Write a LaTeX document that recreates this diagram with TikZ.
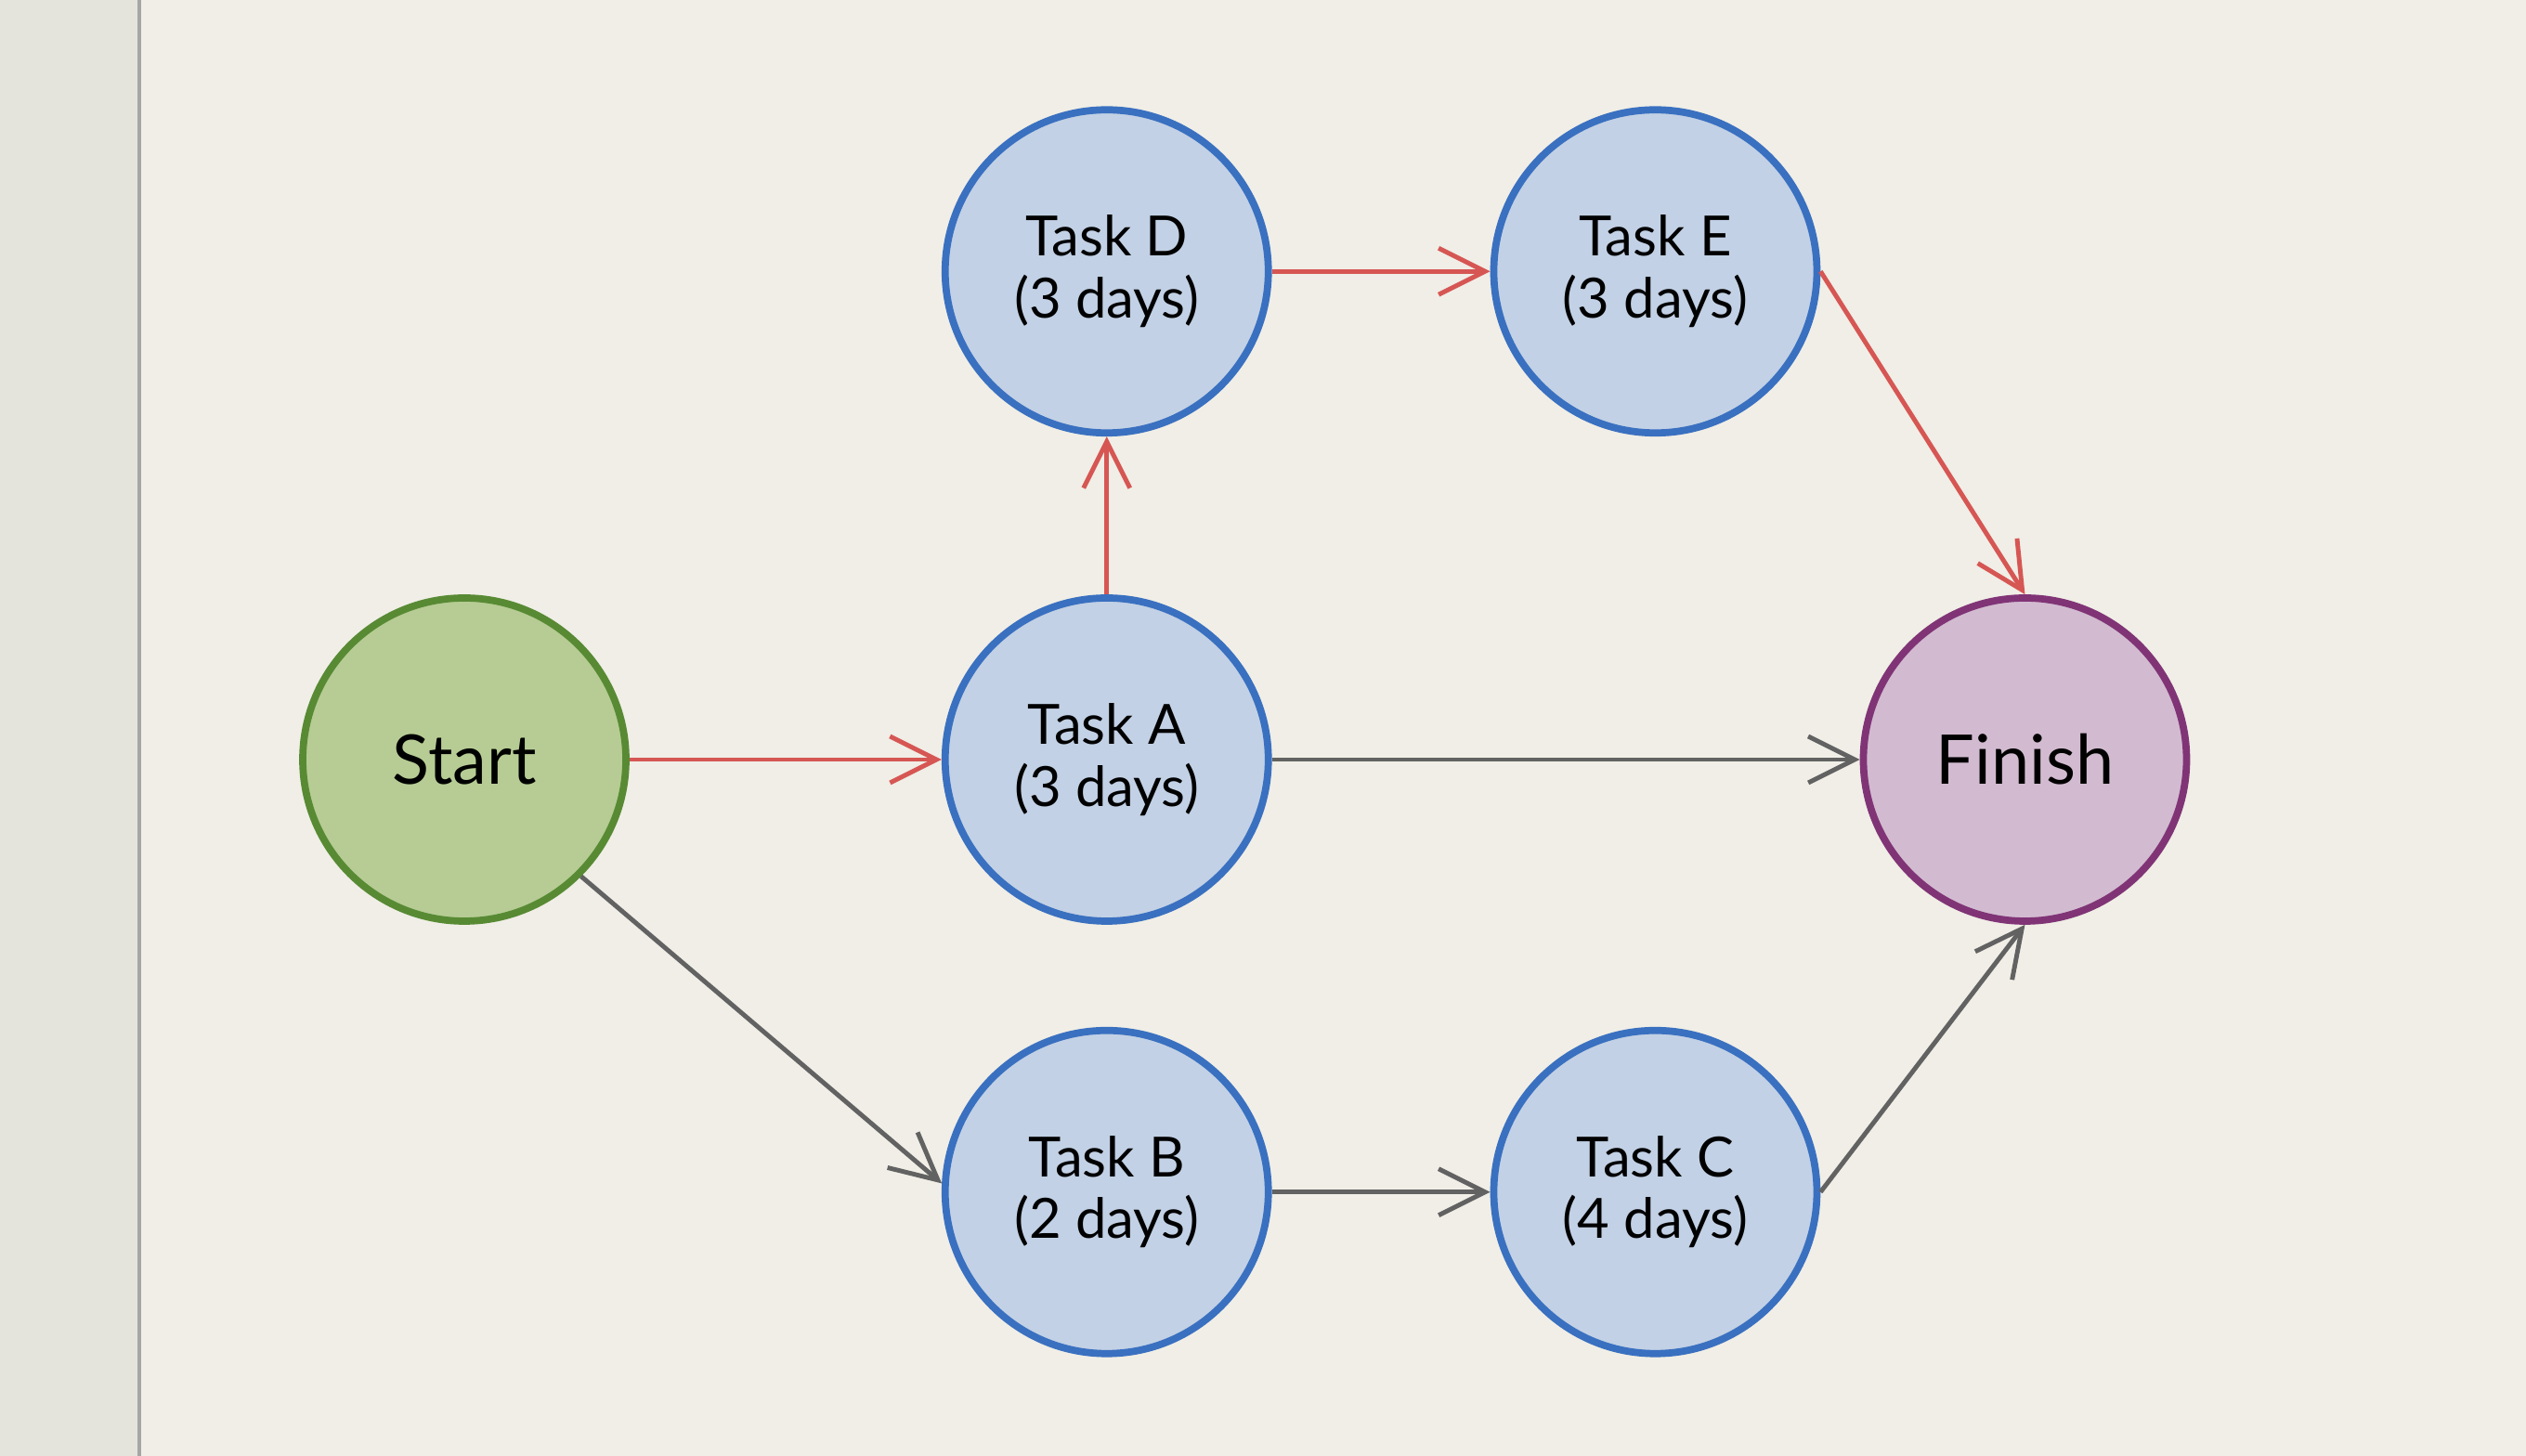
\documentclass[tikz,border=0pt]{standalone}
\usepackage{fontspec}
\setmainfont{Lato}
\usepackage{tikz}
\usetikzlibrary{arrows.meta,positioning}

\definecolor{paper}{RGB}{240,238,230}
\definecolor{leftpage}{RGB}{228,228,221}
\definecolor{startfill}{RGB}{182,204,148}
\definecolor{startline}{RGB}{88,138,52}
\definecolor{taskfill}{RGB}{194,209,229}
\definecolor{taskline}{RGB}{58,112,192}
\definecolor{finfill}{RGB}{210,187,208}
\definecolor{finline}{RGB}{128,52,118}
\definecolor{crit}{RGB}{214,86,84}
\definecolor{slack}{RGB}{98,98,98}

\begin{document}
\begin{tikzpicture}[every node/.style={font=\fontsize{17}{19}\selectfont},
			c/.style={circle, line width=2.2pt, minimum size=3.48cm, align=center, inner sep=0pt},
			task/.style={c, draw=taskline, fill=taskfill},
			big/.style={font=\fontsize{21}{24}\selectfont},
			arr/.style={line width=1.4pt, -{Straight Barb[length=5mm, width=5mm, line width=1.4pt]}},
			red/.style={arr, draw=crit},
			grey/.style={arr, draw=slack}]
			\useasboundingbox (0,0) rectangle (27.2,15.68);
			% paper
			\fill[paper] (0,0) rectangle (27.2,15.68);
			\fill[leftpage] (0,0) rectangle (1.5,15.68);
			\draw[gray!70, line width=1pt] (1.5,0) -- (1.5,15.68);
			% nodes
			\node[c, big, draw=startline, fill=startfill] (s) at (5.0,7.5) {Start};
			\node[task, right=3.36cm of s] (a) {Task A\\(3 days)};
			\node[task, above=1.70cm of a] (d) {Task D\\(3 days)};
			\node[task, right=2.35cm of d] (e) {Task E\\(3 days)};
			\node[task, below=1.10cm of a] (b) {Task B\\(2 days)};
			\node[task, right=2.35cm of b] (cc) {Task C\\(4 days)};
			\node[c, big, draw=finline, fill=finfill, right=6.33cm of a] (f) {Finish};
			% critical path
			\draw[red] (s) -- (a);
			\draw[red] (a) -- (d);
			\draw[red] (d) -- (e);
			\draw[red] (e.east) -- (f.north);
			% other links
			\draw[grey] (a) -- (f);
			\draw[grey] (s.-45) -- (b.177);
			\draw[grey] (b) -- (cc);
			\draw[grey] (cc.east) -- (f.south);
		\end{tikzpicture}
\end{document}
